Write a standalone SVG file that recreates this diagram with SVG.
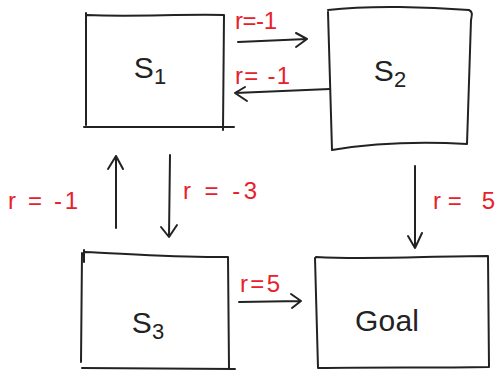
<svg xmlns="http://www.w3.org/2000/svg" width="502" height="371" viewBox="0 0 502 371">
<style>
.box{fill:none;stroke:#222;stroke-width:2;stroke-linejoin:round;stroke-linecap:round}
.ln{fill:none;stroke:#222;stroke-width:2;stroke-linecap:round;stroke-linejoin:round}
.nl{font-family:"Liberation Sans",sans-serif;font-size:30px;fill:#222;text-anchor:middle}
.sub{font-size:22px}
.lb{font-family:"Liberation Sans",sans-serif;font-size:24px;fill:#e8202a}
</style>
<rect width="502" height="371" fill="#fff"/>
<g id="s1">
<path class="box" d="M86,13 L86,125 M87,15 C130,17 180,14 224,15 L223,130 M84,127 L234,127"/>
<text class="nl" x="150" y="78">S<tspan class="sub" dy="6">1</tspan></text>
</g>
<g id="s2">
<path class="box" d="M328,10 C370,5 430,7 469,10 C473,12 472,15 471,20 L467,144 C430,142 380,142 332,150 L328,12"/>
<text class="nl" x="390" y="81">S<tspan class="sub" dy="6">2</tspan></text>
</g>
<g id="s3">
<path class="box" d="M84,250 L84,262 M85,252 C130,254 180,258 228,257 L229,368 M81,362 L82,253 M82,368 L235,369"/>
<text class="nl" x="148" y="333">S<tspan class="sub" dy="6">3</tspan></text>
</g>
<g id="goal">
<path class="box" d="M316,257 C370,260 430,256 488,256 L489,367 C430,368 380,367 318,368 L315,258"/>
<text class="nl" x="387" y="331" textLength="64">Goal</text>
</g>
<g id="connectors">
<path class="ln" d="M238,42 L307,39 M296,33 L307,39 L296,47"/>
<path class="ln" d="M330,89 L235,93 M245,87 L235,93 L247,101"/>
<path class="ln" d="M116,228 L116,156 M108,169 L116,156 L123,169"/>
<path class="ln" d="M170,155 L169,236 M161,227 L169,237 L177,225"/>
<path class="ln" d="M415,166 L415,248 M408,236 L415,248 L422,233"/>
<path class="ln" d="M239,302 L301,301 M291,294 L301,301 L292,308"/>
</g>
<g id="labels">
<text class="lb" x="235" y="29" textLength="42">r=-1</text>
<text class="lb" x="235" y="84" textLength="55">r= -1</text>
<text class="lb" x="8" y="209" textLength="70">r = -1</text>
<text class="lb" x="183" y="199" textLength="74">r = -3</text>
<text class="lb" x="433" y="209" textLength="62">r= 5</text>
<text class="lb" x="240" y="292" textLength="40">r=5</text>
</g>
</svg>
